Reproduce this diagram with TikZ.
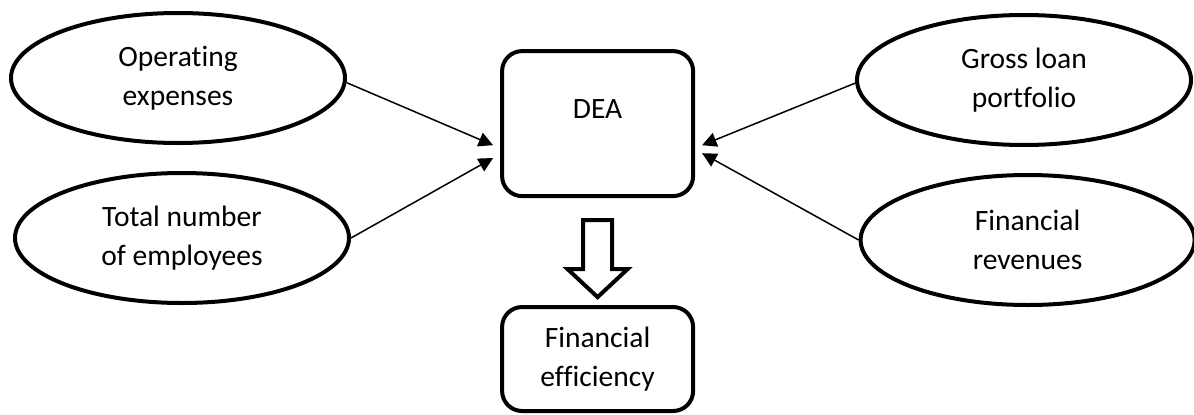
\documentclass[tikz,border=0pt]{standalone}
\usepackage{fontspec}
\setmainfont{Carlito}[Ligatures=NoCommon]
\usepackage{tikz}
\usetikzlibrary{shapes,arrows.meta,positioning,calc}

\begin{document}
\begin{tikzpicture}[
  every node/.style={font=\fontsize{21}{27.7}\selectfont, align=center},
  factor/.style={draw, ellipse, line width=0.1cm, minimum width=8.35cm, minimum height=3.25cm, inner sep=0pt},
  stagebox/.style={draw, rounded corners=0.5cm, line width=0.1cm, minimum width=4.775cm},
  link/.style={line width=1.07pt, -{Triangle[length=0.36cm,width=0.36cm]}},
  hollowarrow/.style={draw, line width=0.1cm, miter limit=20}
]
\useasboundingbox (0,0) rectangle (29.85,10.35);

% Inputs
\node[factor] (opex) at (4.45,8.4) {Operating\\expenses};
\node[factor] (staff) at (4.55,4.4) {Total number\\of employees};

% Outputs
\node[factor] (loans) at (25.6,8.35) {Gross loan\\portfolio};
\node[factor] (revenue) at (25.69,4.35) {Financial\\revenues};

% DEA model and result
\node[stagebox, minimum height=3.625cm] (dea) at (14.94,7.26) {};
\node (dealabel) at ([yshift=0.37cm]dea.center) {DEA};
\node[stagebox, minimum height=2.6cm] (eff) at (14.94,1.375) {Financial\\efficiency};

% Arrow ends at the DEA box
\coordinate (inA) at ([xshift=-0.175cm,yshift=-0.54cm]dea.west);
\coordinate (inB) at ([xshift=-0.175cm,yshift=-0.86cm]dea.west);
\coordinate (outA) at ([xshift=0.175cm,yshift=-0.54cm]dea.east);
\coordinate (outB) at ([xshift=0.175cm,yshift=-0.74cm]dea.east);

\draw[link] ([yshift=-0.12cm]opex.east) -- (inA);
\draw[link] (staff.east) -- (inB);
\draw[link] ([yshift=-0.08cm]loans.west) -- (outA);
\draw[link] (revenue.west) -- (outB);

% Hollow block arrow down to the result
\draw[hollowarrow] ([xshift=-0.36cm,yshift=-0.55cm]dea.south) -- ++(0.72,0) -- ++(0,-1.225)
  -- ++(0.39,0) -- ++(-0.75,-0.7) -- ++(-0.75,0.7) -- ++(0.39,0) -- cycle;
\end{tikzpicture}
\end{document}
